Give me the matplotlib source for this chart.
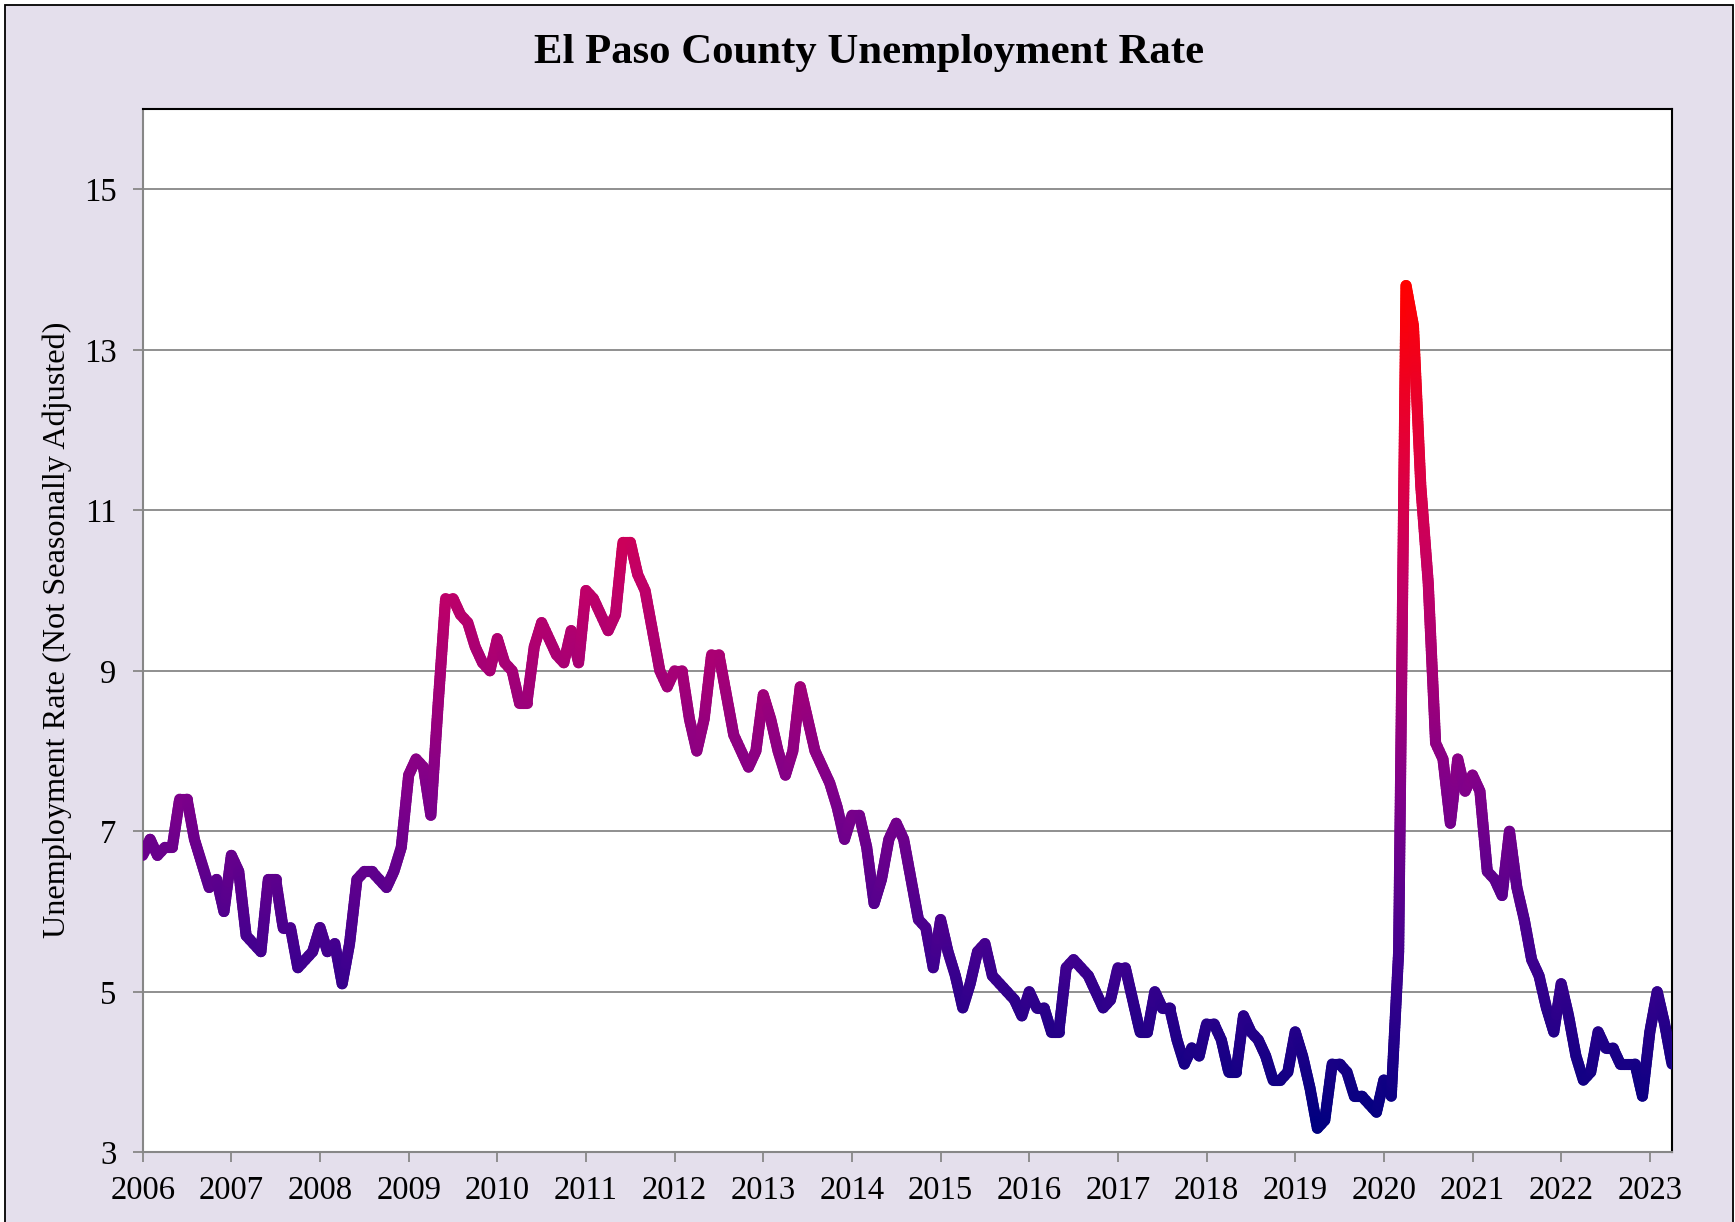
import numpy as np
import matplotlib.pyplot as plt
from matplotlib.collections import LineCollection
from matplotlib.colors import LinearSegmentedColormap, Normalize
from matplotlib.patches import Rectangle

plt.rcParams['font.family'] = ['Liberation Serif', 'DejaVu Serif']

# monthly unemployment rate, Jan 2006 .. Apr 2023
rate_2006 = [6.7, 6.9, 6.7, 6.8, 6.8, 7.4, 7.4, 6.9, 6.6, 6.3, 6.4, 6.0]
rate_2007 = [6.7, 6.5, 5.7, 5.6, 5.5, 6.4, 6.4, 5.8, 5.8, 5.3, 5.4, 5.5]
rate_2008 = [5.8, 5.5, 5.6, 5.1, 5.6, 6.4, 6.5, 6.5, 6.4, 6.3, 6.5, 6.8]
rate_2009 = [7.7, 7.9, 7.8, 7.2, 8.6, 9.9, 9.9, 9.7, 9.6, 9.3, 9.1, 9.0]
rate_2010 = [9.4, 9.1, 9.0, 8.6, 8.6, 9.3, 9.6, 9.4, 9.2, 9.1, 9.5, 9.1]
rate_2011 = [10.0, 9.9, 9.7, 9.5, 9.7, 10.6, 10.6, 10.2, 10.0, 9.5, 9.0, 8.8]
rate_2012 = [9.0, 9.0, 8.4, 8.0, 8.4, 9.2, 9.2, 8.7, 8.2, 8.0, 7.8, 8.0]
rate_2013 = [8.7, 8.4, 8.0, 7.7, 8.0, 8.8, 8.4, 8.0, 7.8, 7.6, 7.3, 6.9]
rate_2014 = [7.2, 7.2, 6.8, 6.1, 6.4, 6.9, 7.1, 6.9, 6.4, 5.9, 5.8, 5.3]
rate_2015 = [5.9, 5.5, 5.2, 4.8, 5.1, 5.5, 5.6, 5.2, 5.1, 5.0, 4.9, 4.7]
rate_2016 = [5.0, 4.8, 4.8, 4.5, 4.5, 5.3, 5.4, 5.3, 5.2, 5.0, 4.8, 4.9]
rate_2017 = [5.3, 5.3, 4.9, 4.5, 4.5, 5.0, 4.8, 4.8, 4.4, 4.1, 4.3, 4.2]
rate_2018 = [4.6, 4.6, 4.4, 4.0, 4.0, 4.7, 4.5, 4.4, 4.2, 3.9, 3.9, 4.0]
rate_2019 = [4.5, 4.2, 3.8, 3.3, 3.4, 4.1, 4.1, 4.0, 3.7, 3.7, 3.6, 3.5]
rate_2020 = [3.9, 3.7, 5.5, 13.8, 13.3, 11.3, 10.1, 8.1, 7.9, 7.1, 7.9, 7.5]
rate_2021 = [7.7, 7.5, 6.5, 6.4, 6.2, 7.0, 6.3, 5.9, 5.4, 5.2, 4.8, 4.5]
rate_2022 = [5.1, 4.7, 4.2, 3.9, 4.0, 4.5, 4.3, 4.3, 4.1, 4.1, 4.1, 3.7]
rate_2023 = [4.5, 5.0, 4.6, 4.1]

years = list(range(2006, 2024))
y_ticks = [3, 5, 7, 9, 11, 13, 15]

rates = np.array(rate_2006 + rate_2007 + rate_2008 + rate_2009 + rate_2010 +
                 rate_2011 + rate_2012 + rate_2013 + rate_2014 + rate_2015 +
                 rate_2016 + rate_2017 + rate_2018 + rate_2019 + rate_2020 +
                 rate_2021 + rate_2022 + rate_2023)
x = 2006 + np.arange(len(rates)) / 12.0

lavender = '#e4dfec'
cmap = LinearSegmentedColormap.from_list('unemp', [
    (0.0, (0.0, 0.0, 0.50)),
    (0.2, (0.25, 0.0, 0.56)),
    (0.4, (0.50, 0.0, 0.54)),
    (0.65, (0.76, 0.0, 0.40)),
    (0.8, (0.88, 0.0, 0.24)),
    (1.0, (1.0, 0.0, 0.0))])
norm = Normalize(vmin=rates.min(), vmax=rates.max())

fig = plt.figure(figsize=(17.35, 12.22), dpi=100, facecolor='white')
fig.patches.append(Rectangle((5 / 1735, -0.02), 1728 / 1735, 1 - 5 / 1222 + 0.02,
                             transform=fig.transFigure, facecolor=lavender,
                             edgecolor='black', linewidth=1.3, zorder=-10))

ax = fig.add_axes([142.7 / 1735, 1 - 1152.3 / 1222,
                   (1672 - 142.7) / 1735, (1152.3 - 109) / 1222])
ax.set_facecolor('white')

# split each segment into short pieces so the colour follows the value
segs, vals = [], []
for i in range(len(rates) - 1):
    n = max(2, int(abs(rates[i + 1] - rates[i]) * 25))
    xs = np.linspace(x[i], x[i + 1], n + 1)
    ys = np.linspace(rates[i], rates[i + 1], n + 1)
    for k in range(n):
        segs.append([(xs[k], ys[k]), (xs[k + 1], ys[k + 1])])
        vals.append((ys[k] + ys[k + 1]) / 2)

lc = LineCollection(segs, cmap=cmap, norm=norm, linewidths=8.0, zorder=3)
lc.set_array(np.array(vals))
lc.set_capstyle('round')
lc.set_joinstyle('round')
ax.add_collection(lc)

ax.set_xlim(x[0], x[-1])
ax.set_ylim(3, 16)
ax.set_yticks(y_ticks)
ax.set_xticks(years)
ax.set_xticklabels([str(y) for y in years])
ax.grid(axis='y', color='#878787', linewidth=1.3, zorder=1)
ax.tick_params(axis='both', labelsize=23.5, colors='#878787', labelcolor='black',
               width=1.3, length=7)
ax.tick_params(axis='y', pad=12)
ax.tick_params(axis='x', pad=10)
for side in ['top', 'right']:
    ax.spines[side].set_color('black')
    ax.spines[side].set_linewidth(1.5)
for side in ['left', 'bottom']:
    ax.spines[side].set_color('#878787')
    ax.spines[side].set_linewidth(1.5)

fig.text(0.501, 0.957, 'El Paso County Unemployment Rate', ha='center',
         va='center', fontsize=30.8, fontweight='bold')
fig.text(0.0331, 0.485, 'Unemployment Rate (Not Seasonally Adjusted)',
         ha='center', va='center', rotation=90, fontsize=23.2)

fig.savefig('out.png', dpi=100, facecolor='white')
